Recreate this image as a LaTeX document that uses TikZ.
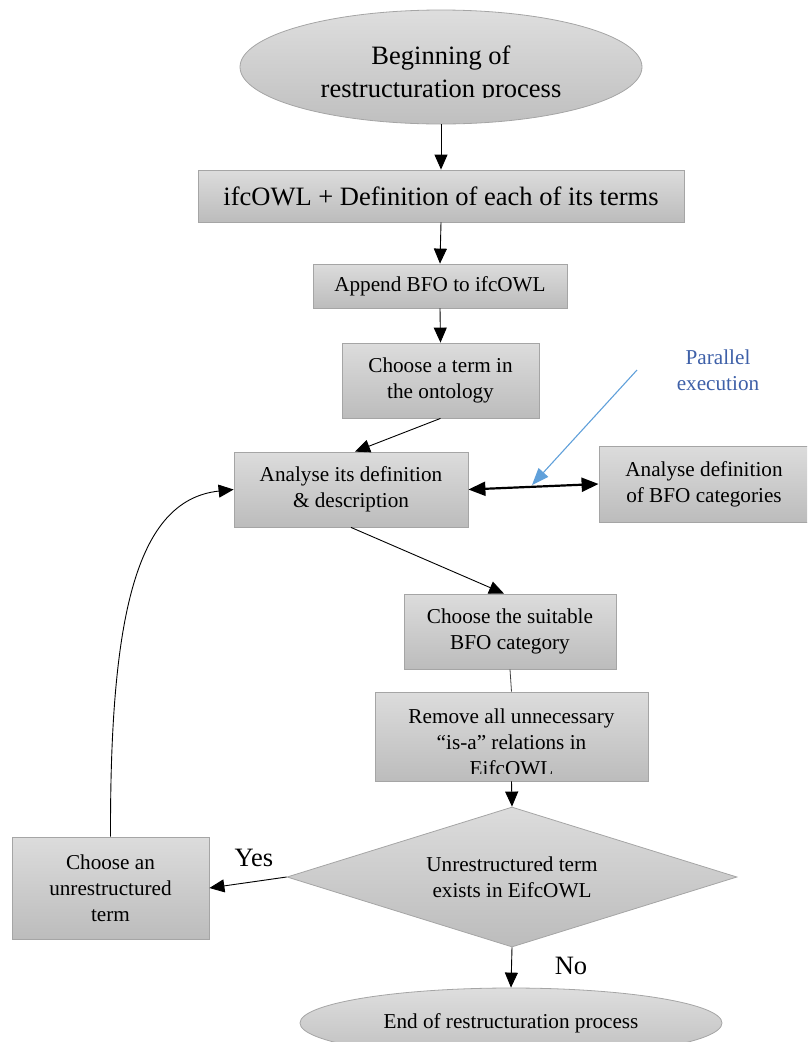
\documentclass[tikz,border=0pt]{standalone}
\usepackage{fontspec}
\setmainfont{Liberation Serif}
\usetikzlibrary{shapes.geometric,arrows.meta}
\definecolor{boxtop}{RGB}{220,220,220}
\definecolor{boxbot}{RGB}{188,188,188}
\definecolor{boxline}{RGB}{165,165,165}
\definecolor{ptext}{RGB}{62,96,168}
\definecolor{parrow}{RGB}{96,160,218}
\begin{document}
\begin{tikzpicture}[x=1pt,y=-1pt,
  box/.style={draw=boxline, line width=0.8pt, top color=boxtop, bottom color=boxbot, inner sep=0pt, align=center, font=\fontsize{21.2}{26}\selectfont},
  oval/.style={ellipse, draw=boxline, line width=0.8pt, top color=boxtop!95!white, bottom color=boxbot!95!white, inner sep=0pt, align=center},
  conn/.style={line width=0.9pt, draw=black, -{Triangle[length=15pt,width=13pt]}},
  plain/.style={line width=0.8pt, draw=black!75},
  bigtext/.style={font=\fontsize{26.5}{33}\selectfont},
  smalltext/.style={font=\fontsize{21.2}{26}\selectfont}]
\useasboundingbox (0,0) rectangle (807,1042);
\clip (0,0) rectangle (807,1042);

\node[oval, minimum width=402pt, minimum height=114pt] (start) at (441,67) {};
\begin{scope}
  \clip (240,10) rectangle (642,97.5);
  \node[bigtext, align=center, inner sep=0pt] (starttext) at (441,74) {Beginning of\\restructuration process};
\end{scope}
\node[box, bigtext, minimum width=486pt, minimum height=52pt] (b1) at (441,196) {ifcOWL + Definition of each of its terms};
\node[box, minimum width=254pt, minimum height=44pt] (b2) at (440,286) {Append BFO to ifcOWL};
\node[box, minimum width=197pt, minimum height=75pt] (b3) at (440.5,380.5) {Choose a term in\\the ontology};
\node[box, minimum width=234pt, minimum height=75pt] (b4) at (351,489.5) {Analyse its definition\\\& description};
\node[box, minimum width=210pt, minimum height=76pt] (b5) at (704,484) {Analyse definition\\of BFO categories};
\node[box, minimum width=212pt, minimum height=75pt] (b6) at (510,631.5) {Choose the suitable\\BFO category};
\node[box, minimum width=273pt, minimum height=89pt] (b7) at (511.5,736.5) {};
\begin{scope}
  \clip (376,693) rectangle (647,773);
  \node[smalltext, align=center, inner sep=0pt] (b7text) at (511.5,742) {Remove all unnecessary\\“is-a” relations in\\EifcOWL};
\end{scope}
\node[diamond, aspect=3.2, draw=boxline, line width=0.8pt, top color=boxtop, bottom color=boxbot, inner sep=0pt, minimum width=450pt, minimum height=140pt, align=center, smalltext] (dec) at (512,877) {Unrestructured term\\exists in EifcOWL};
\node[box, minimum width=197pt, minimum height=102pt] (b8) at (110.5,888) {Choose an\\unrestructured\\term};
\node[oval, smalltext, minimum width=422pt, minimum height=70pt] (stop) at (511,1023) {End of restructuration process};

\node[smalltext, text=ptext, align=center] (par) at (718,370) {Parallel\\execution};
\node[bigtext] (yes) at (254,858) {Yes};
\node[bigtext] (no) at (571,966) {No};

\draw[conn] (start.south) -- (b1.north);
\draw[conn] (b1.south) -- (b2.north);
\draw[conn] (b2.south) -- (b3.north);
\draw[conn] (b3.south) -- ([xshift=4pt]b4.north);
\draw[line width=2.2pt, {Triangle[length=17pt,width=14pt]}-{Triangle[length=17pt,width=14pt]}] (b4.east) -- (b5.west);
\coordinate (pstart) at (637,370);
\coordinate (pend) at (532,485);
\draw[line width=1.1pt, draw=parrow, -{Triangle[length=17pt,width=13pt]}, parrow] (pstart) -- (pend);
\draw[conn] (b4.south) -- ([xshift=-6pt]b6.north);
\draw[plain] (b6.south) -- (b7.north);
\draw[conn] (b7.south) -- (dec.north);
\draw[conn] (dec.west) -- (b8.east);
\draw[conn] (dec.south) -- (stop.north);
\draw[conn] (b8.north) .. controls (110,620) and (135,500) .. (b4.west);
\end{tikzpicture}
\end{document}
